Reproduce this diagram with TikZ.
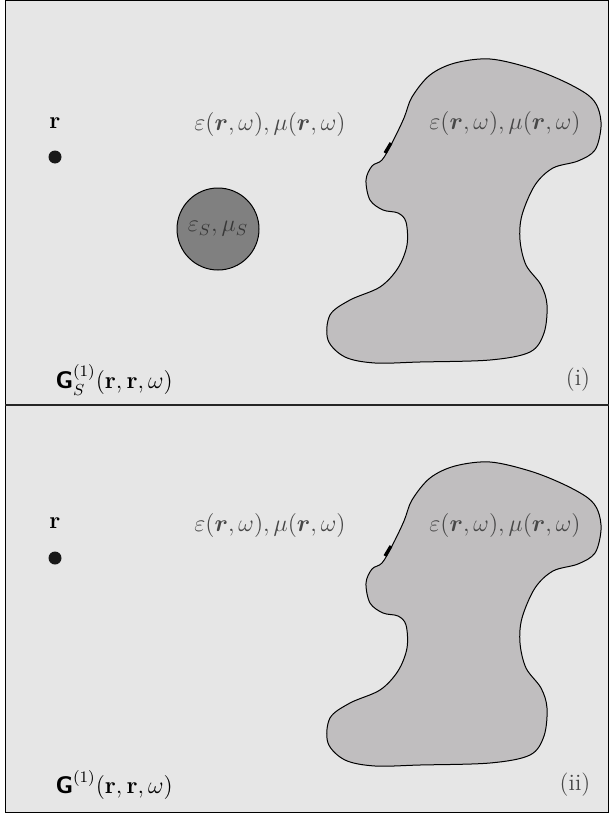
\documentclass[tikz,border=0pt]{standalone}
\usepackage{amsmath,bm}
\usetikzlibrary{positioning}
\definecolor{fondo}{HTML}{E6E6E6}
\definecolor{cuerpo}{HTML}{C0BEBF}
\definecolor{esfera}{HTML}{808080}
\tikzset{
  etiq/.style={text=black!72, font=\fontsize{11.7}{14}\selectfont, inner sep=0pt},
  punto/.style={circle, fill=black!90, minimum size=6.5pt, inner sep=0pt},
}
% el contorno del cuerpo, en px de la imagen (panel de arriba)
\newcommand{\contorno}{plot[smooth cycle, tension=0.55] coordinates {
  (490,59) (530,68) (563,81) (588,95) (598,108) (601,127) (595,150) (578,161)
  (553,168) (535,185) (522,215) (520,240) (526,265) (541,285) (547,305) (544,333)
  (530,352) (490,360) (420,362) (375,363) (345,357) (328,340) (330,315) (350,300)
  (380,287) (398,268) (407,245) (406,222) (398,213) (383,210) (370,200) (366,180)
  (372,166) (382,160) (392,143) (404,118) (412,97) (430,75) (455,63)}}
\begin{document}
\begin{tikzpicture}[x=0.5pt, y=-0.5pt, line width=0.5pt]
  \useasboundingbox (0,0) rectangle (609,813);
  % los dos paneles
  \fill[fondo] (5,1) rectangle (609,812);
  \draw (5,1) rectangle (608.5,812);
  \draw[line width=1pt, black!85] (5,405) -- (608.5,405);
  % los cuerpos, arriba y abajo
  \filldraw[fill=cuerpo] \contorno;
  \draw[line width=1.6pt] (385,153) -- (391,143);
  \begin{scope}[yshift=-403*0.5pt]
    \filldraw[fill=cuerpo] \contorno;
    \draw[line width=1.6pt] (385,153) -- (391,143);
  \end{scope}
  % panel (i)
  \node[punto] (p1) at (55,157) {};
  \node[etiq, text=black] (r1) at (55,123) {$\mathbf{r}$};
  \node[etiq] (medio1) at (270,124) {$\varepsilon(\bm{r},\omega),\mu(\bm{r},\omega)$};
  \node[etiq] (dentro1) at (505,123) {$\varepsilon(\bm{r},\omega),\mu(\bm{r},\omega)$};
  \node[circle, draw, fill=esfera, minimum size=82*0.5pt, inner sep=0pt,
        font=\fontsize{11.7}{14}\selectfont, text=black!78] (esf) at (218,229)
        {$\varepsilon_S,\mu_S$};
  \node[etiq, text=black, anchor=west] (g1) at (55,380)
        {$\bm{\mathsf{G}}_S^{(1)}(\mathbf{r},\mathbf{r},\omega)$};
  \node[etiq] (n1) at (578,380) {(i)};
  % panel (ii)
  \node[punto] (p2) at (55,558) {};
  \node[etiq, text=black] (r2) at (55,523) {$\mathbf{r}$};
  \node[etiq] (medio2) at (270,525) {$\varepsilon(\bm{r},\omega),\mu(\bm{r},\omega)$};
  \node[etiq] (dentro2) at (505,525) {$\varepsilon(\bm{r},\omega),\mu(\bm{r},\omega)$};
  \node[etiq, text=black, anchor=west] (g2) at (55,785)
        {$\bm{\mathsf{G}}^{(1)}(\mathbf{r},\mathbf{r},\omega)$};
  \node[etiq] (n2) at (575,785) {(ii)};
\end{tikzpicture}
\end{document}
